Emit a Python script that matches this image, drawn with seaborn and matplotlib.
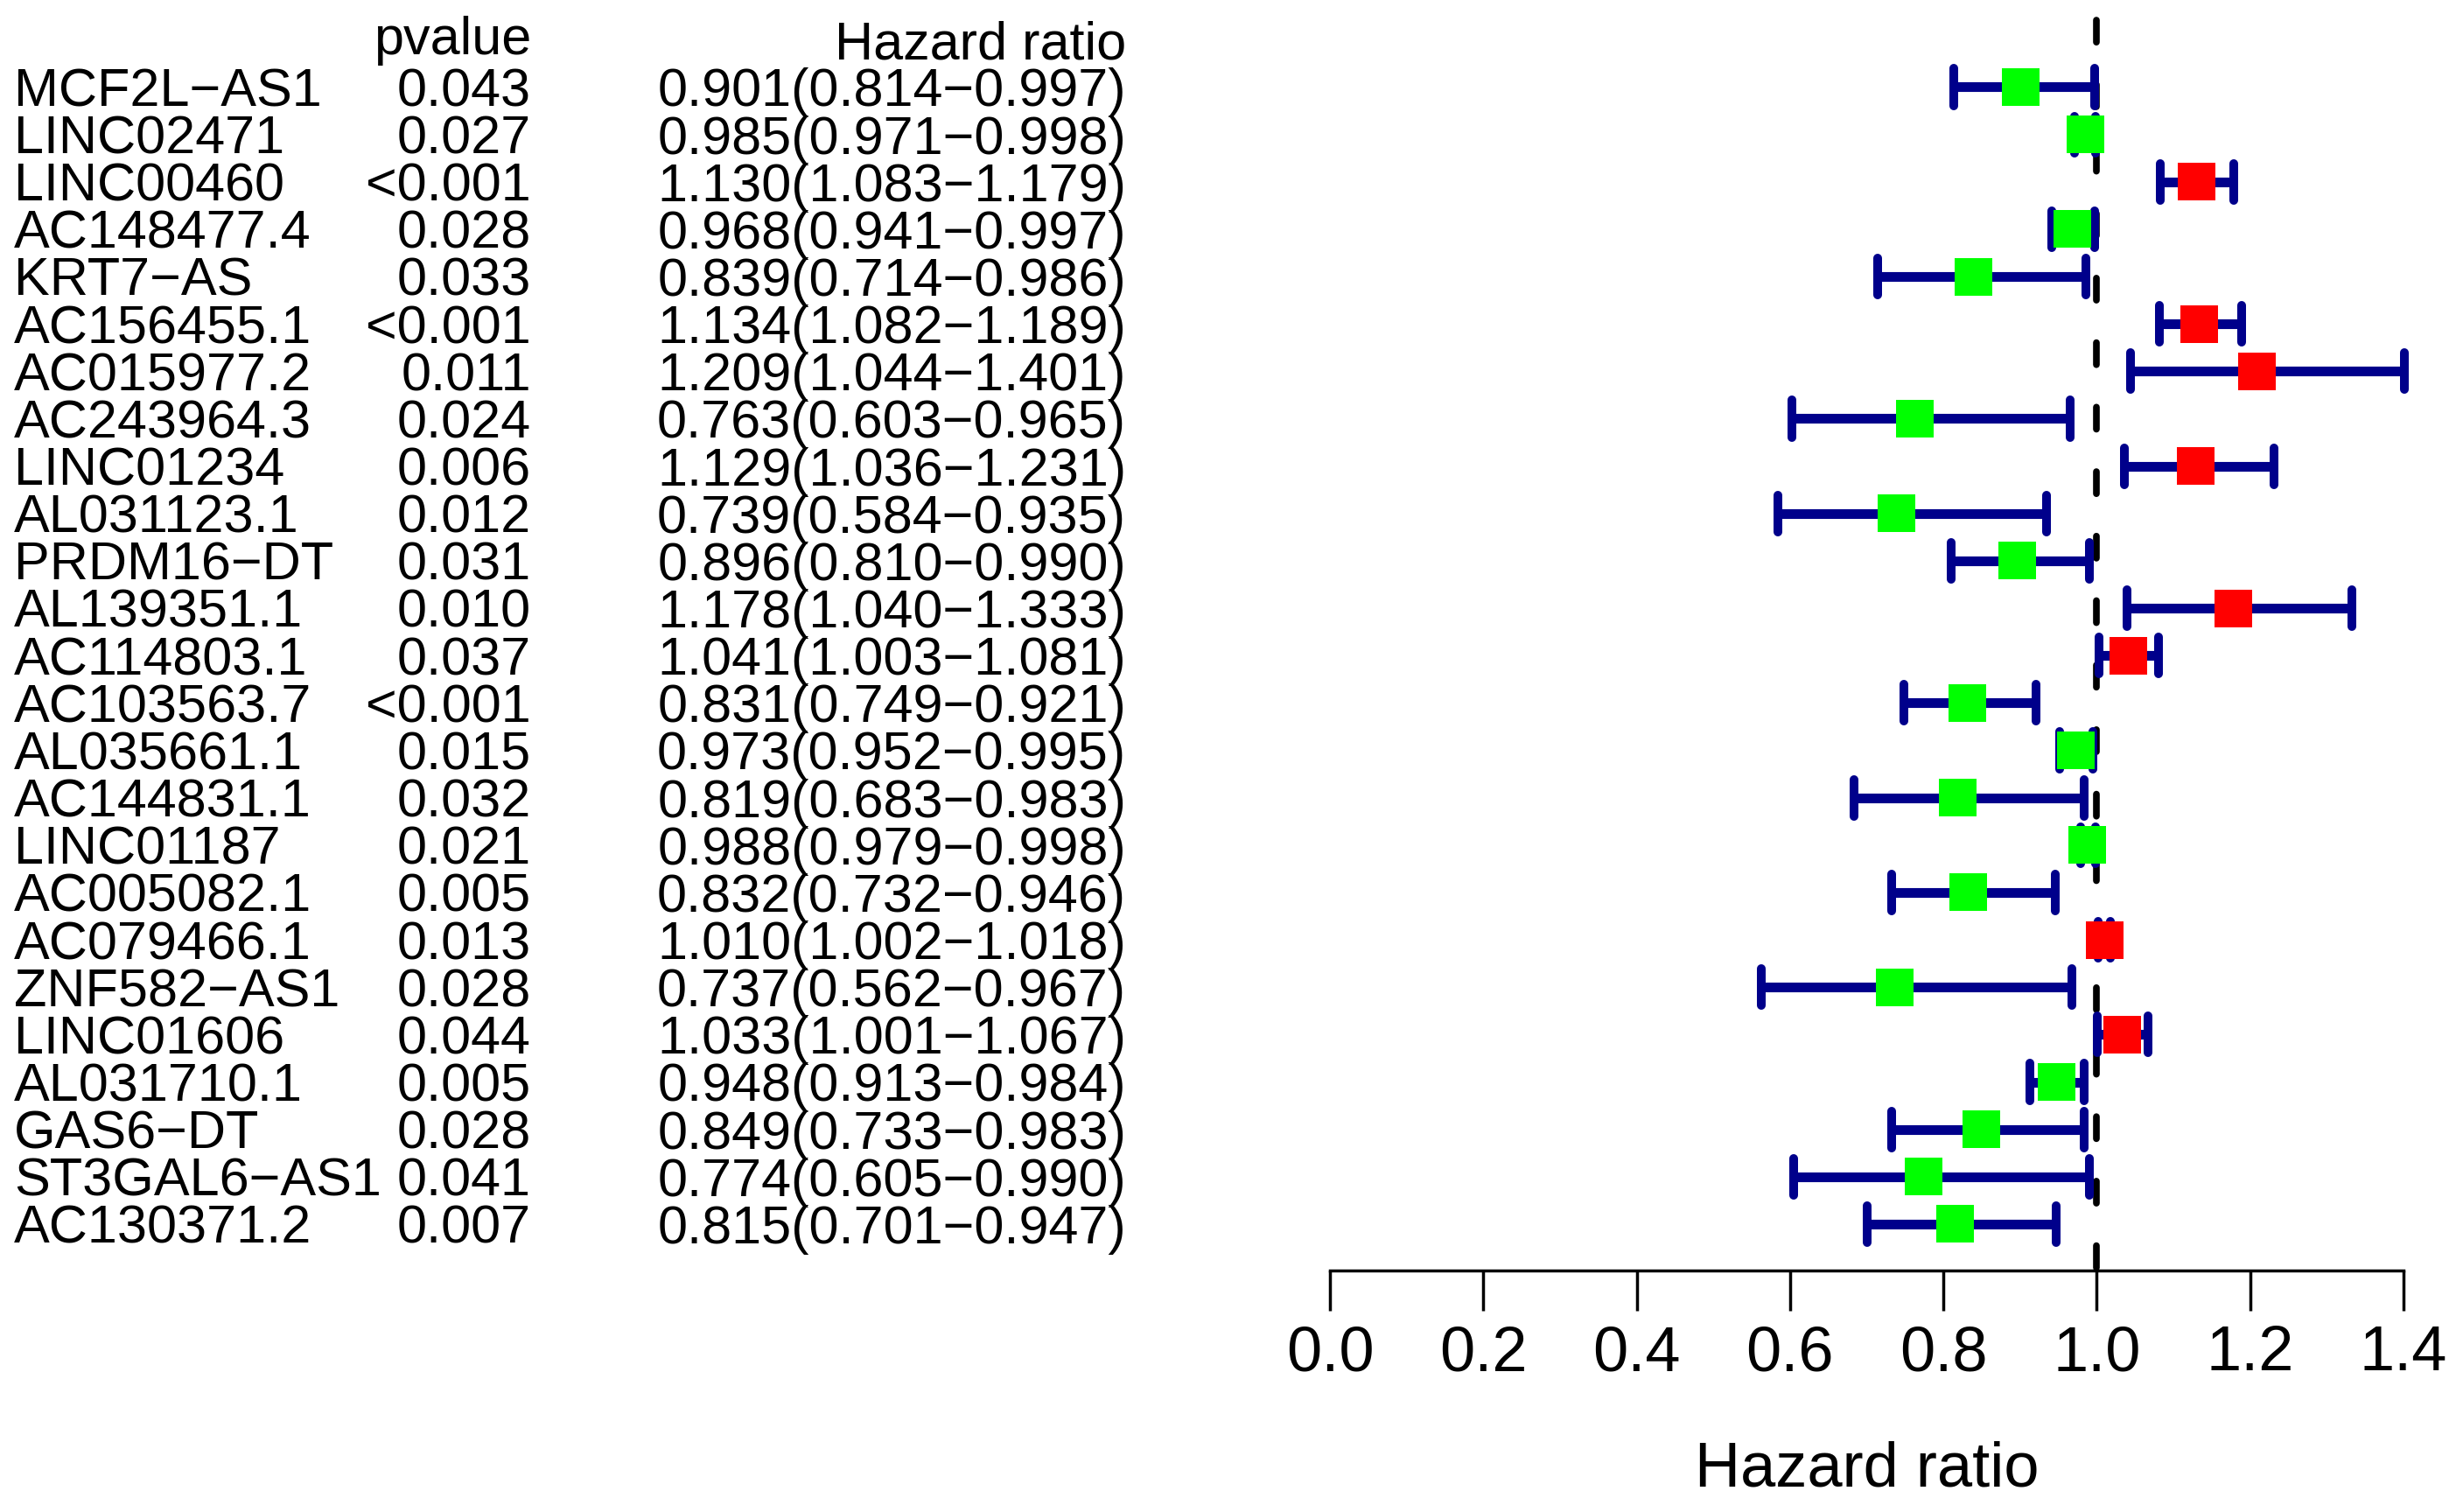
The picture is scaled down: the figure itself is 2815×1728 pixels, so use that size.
import numpy as np
import pandas as pd
import matplotlib
matplotlib.use("Agg")
import matplotlib.pyplot as plt
import matplotlib.transforms as mtransforms
import seaborn as sns

# ---------------- data ----------------
genes = ["MCF2L-AS1", "LINC02471", "LINC00460", "AC148477.4", "KRT7-AS",
         "AC156455.1", "AC015977.2", "AC243964.3", "LINC01234", "AL031123.1",
         "PRDM16-DT", "AL139351.1", "AC114803.1", "AC103563.7", "AL035661.1",
         "AC144831.1", "LINC01187", "AC005082.1", "AC079466.1", "ZNF582-AS1",
         "LINC01606", "AL031710.1", "GAS6-DT", "ST3GAL6-AS1", "AC130371.2"]
pvalues = ["0.043", "0.027", "<0.001", "0.028", "0.033",
           "<0.001", "0.011", "0.024", "0.006", "0.012",
           "0.031", "0.010", "0.037", "<0.001", "0.015",
           "0.032", "0.021", "0.005", "0.013", "0.028",
           "0.044", "0.005", "0.028", "0.041", "0.007"]
hr = [0.901, 0.985, 1.130, 0.968, 0.839,
      1.134, 1.209, 0.763, 1.129, 0.739,
      0.896, 1.178, 1.041, 0.831, 0.973,
      0.819, 0.988, 0.832, 1.010, 0.737,
      1.033, 0.948, 0.849, 0.774, 0.815]
hr_low = [0.814, 0.971, 1.083, 0.941, 0.714,
          1.082, 1.044, 0.603, 1.036, 0.584,
          0.810, 1.040, 1.003, 0.749, 0.952,
          0.683, 0.979, 0.732, 1.002, 0.562,
          1.001, 0.913, 0.733, 0.605, 0.701]
hr_high = [0.997, 0.998, 1.179, 0.997, 0.986,
           1.189, 1.401, 0.965, 1.231, 0.935,
           0.990, 1.333, 1.081, 0.921, 0.995,
           0.983, 0.998, 0.946, 1.018, 0.967,
           1.067, 0.984, 0.983, 0.990, 0.947]
x_ticks = [0.0, 0.2, 0.4, 0.6, 0.8, 1.0, 1.2, 1.4]

# ---------------- style ----------------
sns.set_style("ticks")
plt.rcParams["font.family"] = ["Liberation Sans", "DejaVu Sans"]

df = pd.DataFrame({"gene": genes, "p": pvalues, "hr": hr,
                   "low": hr_low, "high": hr_high})
df["row"] = np.arange(len(df))
df["risk"] = np.where(df["hr"] > 1, "high", "low")

W, H = 2815, 1728
fig = plt.figure(figsize=(W / 100, H / 100), dpi=100)
ax = fig.add_axes([1520 / W, 1 - 1452 / H, 1227 / W, (1452 - 18) / H])

navy = "#00008B"
ytop, ybot = -1.505, 24.98

# reference line at HR = 1
ax.vlines(1.0, ytop + 0.1, ybot, colors="black", linestyles=[(0, (3.3, 6.35))],
          linewidth=5.5, capstyle="round", zorder=1, clip_on=False)

# confidence intervals
ax.hlines(df["row"], df["low"], df["high"], colors=navy, linewidth=8,
          zorder=2, clip_on=False)
for col in ["low", "high"]:
    ax.vlines(df[col], df["row"] - 0.39, df["row"] + 0.39, colors=navy,
              linewidth=7.2, capstyle="round", zorder=2, clip_on=False)

# point estimates
sns.scatterplot(data=df, x="hr", y="row", hue="risk",
                palette={"high": "#FF0000", "low": "#00FF00"},
                marker="s", s=961, linewidth=0, legend=False,
                ax=ax, zorder=3, clip_on=False)

ax.set_xlim(0, 1.4)
ax.set_ylim(ybot, ytop)
ax.set_yticks([])
ax.set_ylabel("")
ax.set_xticks(x_ticks)
ax.set_xticklabels([f"{t:.1f}" for t in x_ticks])
for s in ["top", "left", "right"]:
    ax.spines[s].set_visible(False)
ax.spines["bottom"].set_color("black")
ax.spines["bottom"].set_linewidth(2.5)
ax.tick_params(axis="x", length=33, width=2.5, pad=12, labelsize=52,
               direction="out", color="black", labelcolor="black")
ax.set_xlabel("Hazard ratio", fontsize=52, labelpad=47, color="black")

# ---------------- table text ----------------
trans = mtransforms.blended_transform_factory(fig.transFigure, ax.transData)
off = 0.405
fs = 44
ax.text(607 / W, -1.09 + off, "pvalue", transform=trans, ha="right",
        va="baseline", fontsize=fs, color="black")
ax.text(1287 / W, -1.0 + off, "Hazard ratio", transform=trans, ha="right",
        va="baseline", fontsize=fs, color="black")
for _, r in df.iterrows():
    y = r["row"] + off
    ax.text(16 / W, y, r["gene"].replace("-", "\u2212"), transform=trans,
            ha="left", va="baseline", fontsize=fs, color="black")
    ax.text(607 / W, y, r["p"], transform=trans, ha="right", va="baseline",
            fontsize=fs, color="black")
    ax.text(1287 / W, y, f"{r['hr']:.3f}({r['low']:.3f}\u2212{r['high']:.3f})",
            transform=trans, ha="right", va="baseline", fontsize=fs,
            color="black")

fig.savefig("out.png", dpi=100, facecolor="white")
